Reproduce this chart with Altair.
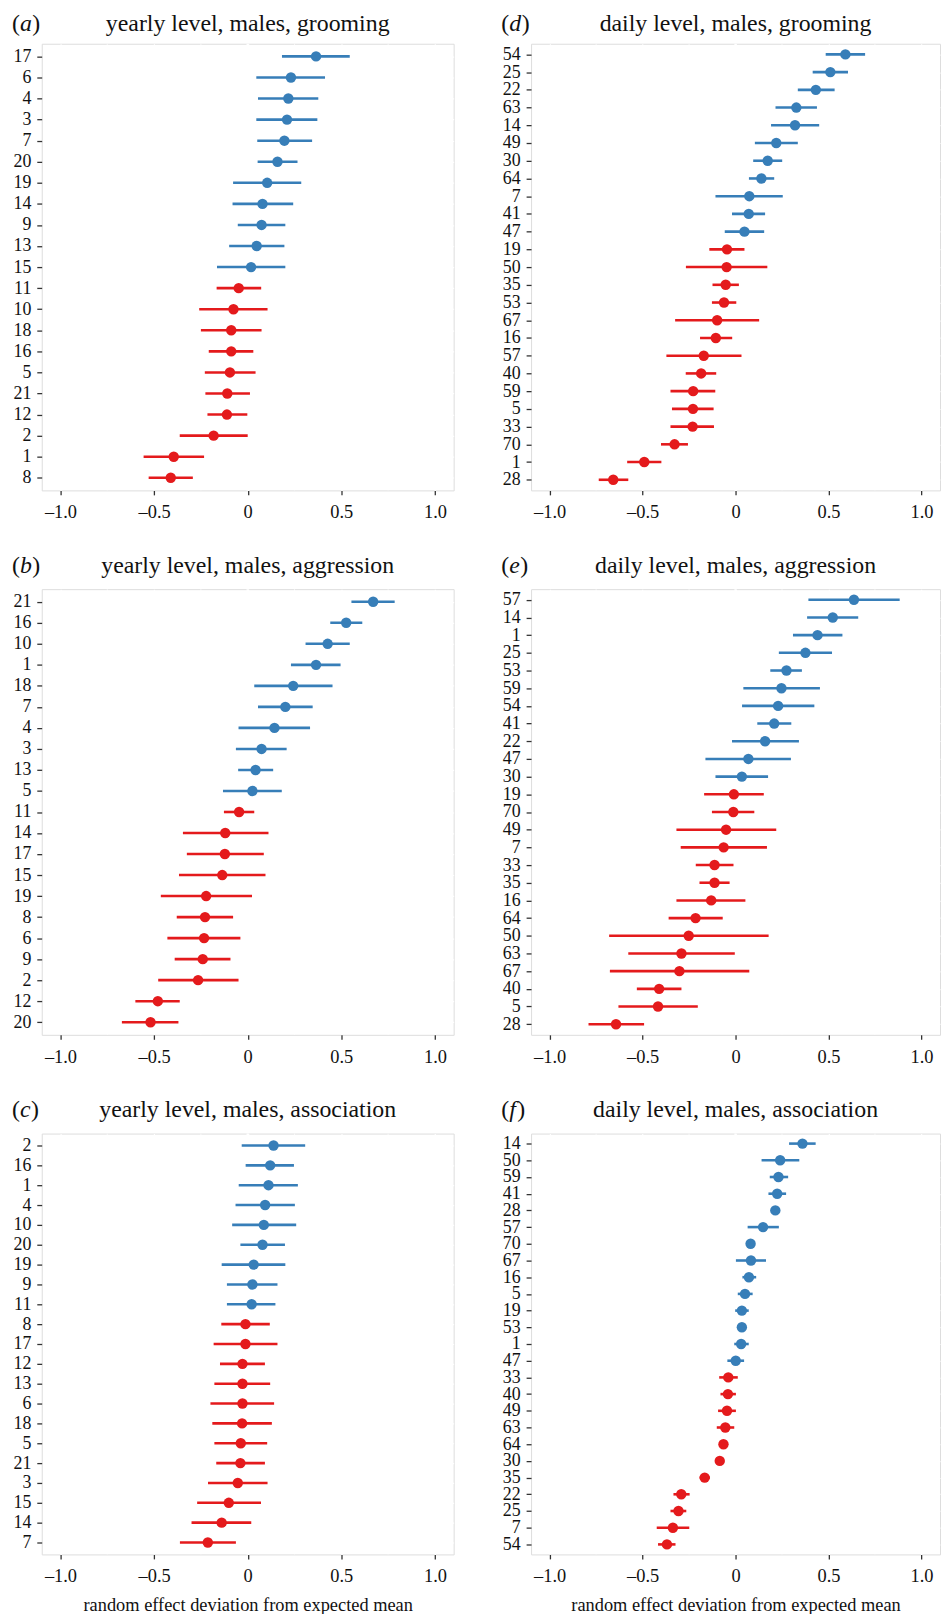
import altair as alt
import pandas as pd

FONT = "Liberation Serif"
BLUE = "#377eb8"
RED = "#e41a1c"
BG = "#ebebeb"

# ---------------- data ----------------
# (a) yearly level, males, grooming
a_ids = ["17", "6", "4", "3", "7", "20", "19", "14", "9", "13", "15", "11", "10", "18", "16", "5", "21", "12", "2", "1", "8"]
a_est = [0.365, 0.231, 0.217, 0.210, 0.196, 0.159, 0.104, 0.079, 0.074, 0.048, 0.018, -0.048, -0.076, -0.088, -0.088, -0.095, -0.109, -0.111, -0.182, -0.395, -0.411]
a_lo = [0.183, 0.046, 0.055, 0.046, 0.051, 0.053, -0.078, -0.081, -0.053, -0.099, -0.164, -0.166, -0.259, -0.250, -0.208, -0.229, -0.226, -0.215, -0.363, -0.556, -0.529]
a_hi = [0.545, 0.413, 0.377, 0.372, 0.344, 0.266, 0.286, 0.243, 0.201, 0.196, 0.201, 0.072, 0.106, 0.074, 0.030, 0.042, 0.012, -0.002, 0.000, -0.233, -0.293]

# (b) yearly level, males, aggression
b_ids = ["21", "16", "10", "1", "18", "7", "4", "3", "13", "5", "11", "14", "17", "15", "19", "8", "6", "9", "2", "12", "20"]
b_est = [0.670, 0.526, 0.427, 0.365, 0.243, 0.201, 0.143, 0.074, 0.042, 0.025, -0.046, -0.120, -0.122, -0.136, -0.222, -0.228, -0.233, -0.240, -0.265, -0.480, -0.519]
b_lo = [0.554, 0.441, 0.309, 0.231, 0.035, 0.055, -0.049, -0.063, -0.051, -0.132, -0.127, -0.346, -0.325, -0.367, -0.464, -0.379, -0.429, -0.390, -0.478, -0.600, -0.672]
b_hi = [0.785, 0.612, 0.545, 0.496, 0.453, 0.347, 0.333, 0.208, 0.136, 0.182, 0.035, 0.111, 0.086, 0.095, 0.023, -0.078, -0.039, -0.092, -0.049, -0.363, -0.370]

# (c) yearly level, males, association
c_ids = ["2", "16", "1", "4", "10", "20", "19", "9", "11", "8", "17", "12", "13", "6", "18", "5", "21", "3", "15", "14", "7"]
c_est = [0.138, 0.120, 0.111, 0.093, 0.086, 0.079, 0.032, 0.025, 0.021, -0.012, -0.012, -0.028, -0.028, -0.028, -0.030, -0.037, -0.039, -0.053, -0.101, -0.139, -0.213]
c_lo = [-0.032, -0.011, -0.048, -0.065, -0.083, -0.039, -0.139, -0.111, -0.111, -0.141, -0.182, -0.148, -0.178, -0.199, -0.189, -0.178, -0.168, -0.212, -0.270, -0.300, -0.362]
c_hi = [0.307, 0.247, 0.268, 0.252, 0.259, 0.199, 0.201, 0.159, 0.148, 0.118, 0.159, 0.092, 0.120, 0.141, 0.129, 0.104, 0.092, 0.106, 0.071, 0.019, -0.063]

# (d) daily level, males, grooming
d_ids = ["54", "25", "22", "63", "14", "49", "30", "64", "7", "41", "47", "19", "50", "35", "53", "67", "16", "57", "40", "59", "5", "33", "70", "1", "28"]
d_est = [0.591, 0.510, 0.432, 0.327, 0.320, 0.219, 0.173, 0.139, 0.074, 0.071, 0.048, -0.046, -0.048, -0.053, -0.062, -0.099, -0.106, -0.171, -0.185, -0.228, -0.229, -0.231, -0.328, -0.491, -0.658]
d_lo = [0.485, 0.415, 0.335, 0.215, 0.191, 0.104, 0.095, 0.072, -0.108, -0.019, -0.058, -0.141, -0.267, -0.124, -0.127, -0.325, -0.191, -0.372, -0.268, -0.350, -0.342, -0.350, -0.401, -0.583, -0.736]
d_hi = [0.697, 0.605, 0.533, 0.438, 0.450, 0.335, 0.251, 0.208, 0.254, 0.159, 0.154, 0.048, 0.171, 0.018, 0.004, 0.127, -0.018, 0.032, -0.104, -0.109, -0.118, -0.116, -0.256, -0.399, -0.577]

# (e) daily level, males, aggression
e_ids = ["57", "14", "1", "25", "53", "59", "54", "41", "22", "47", "30", "19", "70", "49", "7", "33", "35", "16", "64", "50", "63", "67", "40", "5", "28"]
e_est = [0.637, 0.523, 0.441, 0.376, 0.274, 0.247, 0.229, 0.208, 0.159, 0.069, 0.034, -0.009, -0.012, -0.051, -0.064, -0.113, -0.113, -0.131, -0.215, -0.252, -0.291, -0.302, -0.411, -0.417, -0.643]
e_lo = [0.392, 0.385, 0.309, 0.233, 0.187, 0.042, 0.035, 0.117, -0.019, -0.162, -0.108, -0.169, -0.127, -0.318, -0.295, -0.214, -0.194, -0.318, -0.360, -0.680, -0.577, -0.676, -0.531, -0.630, -0.791]
e_hi = [0.883, 0.660, 0.575, 0.519, 0.357, 0.454, 0.424, 0.300, 0.341, 0.298, 0.175, 0.152, 0.101, 0.219, 0.169, -0.011, -0.032, 0.053, -0.069, 0.178, -0.004, 0.074, -0.291, -0.203, -0.492]

# (f) daily level, males, association
f_ids = ["14", "50", "59", "41", "28", "57", "70", "67", "16", "5", "19", "53", "1", "47", "33", "40", "49", "63", "64", "30", "35", "22", "25", "7", "54"]
f_est = [0.360, 0.240, 0.231, 0.224, 0.214, 0.148, 0.081, 0.083, 0.072, 0.051, 0.034, 0.034, 0.030, 0.001, -0.039, -0.041, -0.046, -0.055, -0.065, -0.085, -0.166, -0.292, -0.307, -0.337, -0.369]
f_lo = [0.288, 0.140, 0.184, 0.177, 0.200, 0.065, 0.069, 0.002, 0.037, 0.012, -0.002, 0.016, -0.007, -0.044, -0.088, -0.081, -0.094, -0.101, -0.087, -0.108, -0.193, -0.334, -0.350, -0.424, -0.417]
f_hi = [0.431, 0.343, 0.283, 0.272, 0.228, 0.233, 0.095, 0.164, 0.111, 0.092, 0.071, 0.051, 0.071, 0.046, 0.012, 0.002, 0.002, -0.007, -0.042, -0.062, -0.138, -0.247, -0.265, -0.249, -0.323]

x_ticks = [-1.0, -0.5, 0.0, 0.5, 1.0]
x_minor = [-0.75, -0.25, 0.25, 0.75]
x_zero = [0.0]
x_domain = [-1.1, 1.1]
x_title = "random effect deviation from expected mean"

# advance width (in em) of each italic panel letter, to place the closing parenthesis
LETTER_EM = {"a": 0.5, "b": 0.5, "c": 0.444, "d": 0.5, "e": 0.444, "f": 0.32}
TFS = 24


def panel(letter, title, ids, est, lo, hi, w, h, tdy, show_xtitle):
    df = pd.DataFrame({"id": ids, "est": est, "lo": lo, "hi": hi})
    df["grp"] = ["pos" if v > 0 else "neg" for v in est]

    xscale = alt.Scale(domain=x_domain, nice=False, zero=False)
    yscale = alt.Scale(type="point", domain=ids, padding=0.6)
    cscale = alt.Scale(domain=["pos", "neg"], range=[BLUE, RED])

    xaxis_kw = dict(
        values=x_ticks,
        labelExpr="datum.value === 0 ? '0' : (datum.value < 0 ? '\u2013' : '') + format(abs(datum.value), '.1f')",
        grid=True, gridColor="white", gridWidth=1.2,
        domain=False, tickColor="#333333", tickSize=4.5, tickWidth=1.3,
        labelFont=FONT, labelFontSize=18.5, labelColor="#111111", labelPadding=8,
    )
    if show_xtitle:
        xaxis_kw.update(title=x_title, titleFont=FONT, titleFontSize=18.5,
                        titleFontWeight="normal", titleColor="#111111", titlePadding=10)
    else:
        xaxis_kw.update(title=None)
    xaxis = alt.Axis(**xaxis_kw)
    yaxis = alt.Axis(
        title=None, grid=True, gridColor="white", gridWidth=1.2,
        domain=False, tickColor="#333333", tickSize=5, tickWidth=1.3,
        labelFont=FONT, labelFontSize=18, labelColor="#111111", labelPadding=6,
    )

    minor = alt.Chart(pd.DataFrame({"v": x_minor})).mark_rule(
        color="white", strokeWidth=0.7
    ).encode(x=alt.X("v:Q", scale=xscale, axis=xaxis))
    zero = alt.Chart(pd.DataFrame({"v": x_zero})).mark_rule(
        color="white", strokeWidth=2.4
    ).encode(x=alt.X("v:Q", scale=xscale))

    bars = alt.Chart(df).mark_rule(strokeWidth=2.6).encode(
        x=alt.X("lo:Q", scale=xscale),
        x2="hi:Q",
        y=alt.Y("id:N", scale=yscale, axis=yaxis, sort=ids),
        color=alt.Color("grp:N", scale=cscale, legend=None),
    )
    pts = alt.Chart(df).mark_circle(size=110, opacity=1).encode(
        x=alt.X("est:Q", scale=xscale),
        y=alt.Y("id:N", scale=yscale, sort=ids),
        color=alt.Color("grp:N", scale=cscale, legend=None),
    )

    tfont = dict(font=FONT, fontSize=TFS, color="#111111", baseline="alphabetic")
    x_open = -30
    x_letter = x_open + 0.333 * TFS
    x_close = x_letter + LETTER_EM[letter] * TFS + 0.5
    head = alt.Chart(pd.DataFrame({"t": [title]})).mark_text(align="center", **tfont).encode(
        text="t:N", x=alt.value(w / 2), y=alt.value(tdy))
    p1 = alt.Chart(pd.DataFrame({"t": ["("]})).mark_text(align="left", **tfont).encode(
        text="t:N", x=alt.value(x_open), y=alt.value(tdy))
    p2 = alt.Chart(pd.DataFrame({"t": [letter]})).mark_text(align="left", fontStyle="italic", **tfont).encode(
        text="t:N", x=alt.value(x_letter), y=alt.value(tdy))
    p3 = alt.Chart(pd.DataFrame({"t": [")"]})).mark_text(align="left", **tfont).encode(
        text="t:N", x=alt.value(x_close), y=alt.value(tdy))

    return alt.layer(minor, zero, bars, pts, head, p1, p2, p3).properties(width=w, height=h)


LW, RW = 415, 412
pa = panel("a", "yearly level, males, grooming", a_ids, a_est, a_lo, a_hi, LW, 450, -13, False)
pd_ = panel("d", "daily level, males, grooming", d_ids, d_est, d_lo, d_hi, RW, 450, -13, False)
pb = panel("b", "yearly level, males, aggression", b_ids, b_est, b_lo, b_hi, LW, 449, -16.5, False)
pe = panel("e", "daily level, males, aggression", e_ids, e_est, e_lo, e_hi, RW, 449, -16.5, False)
pc = panel("c", "yearly level, males, association", c_ids, c_est, c_lo, c_hi, LW, 424, -16.5, True)
pf = panel("f", "daily level, males, association", f_ids, f_est, f_lo, f_hi, RW, 424, -16.5, True)

chart = alt.concat(
    pa, pd_, pb, pe, pc, pf,
    columns=2, spacing={"row": 99.5, "column": 78}, bounds="flush",
).properties(
    padding={"left": 3, "top": -3, "right": 0, "bottom": -6}
).configure_view(fill=BG, stroke=None).configure(background="white")

chart.save("out.html", embed_options={"renderer": "svg", "actions": False})
